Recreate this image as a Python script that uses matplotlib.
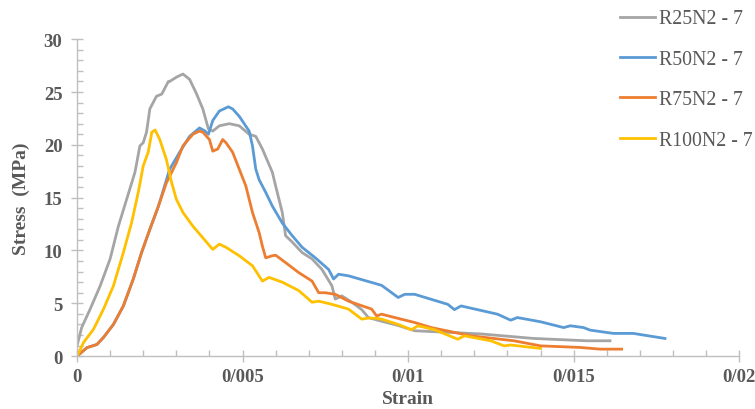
import matplotlib
matplotlib.use("Agg")
import matplotlib.pyplot as plt
from matplotlib.ticker import MultipleLocator, FixedLocator

# Data (strain, stress in MPa)
r25_strain = [0, 0.00014, 0.00039, 0.0007, 0.001, 0.00125, 0.0015, 0.00175, 0.0019, 0.002, 0.0021,
              0.0022, 0.0024, 0.00256, 0.00276, 0.0028, 0.003, 0.0032, 0.0034, 0.0036, 0.0038, 0.00397,
              0.0041, 0.0043, 0.0046, 0.0049, 0.0052, 0.0054, 0.0056, 0.0059, 0.006, 0.0062, 0.0063,
              0.0065, 0.0068, 0.0071, 0.0074, 0.0077, 0.0078, 0.008, 0.0083, 0.0086, 0.0088, 0.0092,
              0.0097, 0.0102, 0.0112, 0.0122, 0.0138, 0.0154, 0.0161]
r25_stress = [0.97, 2.7, 4.4, 6.65, 9.2, 12.3, 14.85, 17.4, 19.9, 20.2, 21.2,
              23.4, 24.6, 24.8, 26.0, 26.0, 26.4, 26.7, 26.2, 24.9, 23.4, 21.5,
              21.3, 21.8, 22.0, 21.8, 21.0, 20.8, 19.6, 17.4, 16.1, 13.6, 11.4,
              10.8, 9.8, 9.2, 8.2, 6.65, 5.4, 5.7, 5.1, 4.4, 3.65, 3.3,
              2.9, 2.4, 2.25, 2.1, 1.67, 1.45, 1.45]

r50_strain = [0, 0.0003, 0.0006, 0.0008, 0.0011, 0.0014, 0.0017, 0.00195, 0.0022, 0.00246, 0.0028,
              0.0031, 0.0034, 0.0037, 0.00387, 0.00397, 0.0041, 0.0043, 0.00457, 0.0047, 0.0049,
              0.0052, 0.0053, 0.0054, 0.0055, 0.0057, 0.0059, 0.0062, 0.0065, 0.0068, 0.0072,
              0.0076, 0.00775, 0.0079, 0.0082, 0.0092, 0.0097, 0.0099, 0.0102, 0.0112, 0.0114,
              0.0116, 0.0127, 0.0131, 0.0133, 0.014, 0.0147, 0.0149, 0.0153, 0.0155, 0.0162,
              0.0168, 0.01776]
r50_stress = [0, 0.8, 1.1, 1.77, 3.0, 4.75, 7.3, 9.8, 12.0, 14.2, 17.7,
              19.3, 20.8, 21.6, 21.3, 21.0, 22.3, 23.2, 23.6, 23.4, 22.7,
              21.3, 19.9, 17.7, 16.7, 15.5, 14.2, 12.6, 11.4, 10.3, 9.3,
              8.2, 7.3, 7.75, 7.6, 6.7, 5.55, 5.85, 5.85, 4.9, 4.4,
              4.75, 3.97, 3.4, 3.65, 3.25, 2.7, 2.87, 2.7, 2.46, 2.15,
              2.15, 1.67]

r75_strain = [0, 0.0003, 0.0006, 0.0008, 0.0011, 0.0014, 0.0017, 0.00195, 0.0022, 0.00246, 0.0027,
              0.003, 0.0032, 0.0035, 0.0037, 0.0038, 0.004, 0.0041, 0.00425, 0.0044, 0.0045,
              0.0047, 0.0049, 0.0051, 0.0053, 0.0055, 0.0056, 0.0057, 0.0059, 0.006, 0.0063,
              0.0067, 0.0071, 0.0073, 0.0075, 0.0078, 0.0082, 0.0089, 0.00905, 0.0092, 0.0097,
              0.0102, 0.0107, 0.0119, 0.0132, 0.014, 0.0152, 0.0158, 0.01645]
r75_stress = [0, 0.8, 1.1, 1.77, 3.0, 4.75, 7.3, 9.8, 12.0, 14.2, 16.4,
              18.3, 19.9, 21.0, 21.3, 21.2, 20.5, 19.4, 19.6, 20.5, 20.2,
              19.3, 17.7, 16.1, 13.6, 11.7, 10.4, 9.3, 9.5, 9.55, 8.85,
              7.9, 7.1, 6.0, 6.0, 5.85, 5.2, 4.45, 3.8, 3.97, 3.57,
              3.18, 2.7, 1.92, 1.45, 0.97, 0.82, 0.66, 0.66]

r100_strain = [0, 0.0002, 0.0005, 0.0008, 0.0011, 0.0014, 0.00165, 0.00185, 0.002, 0.00215, 0.00226,
               0.00236, 0.0025, 0.0027, 0.00286, 0.003, 0.0032, 0.0035, 0.0038, 0.0041, 0.0043,
               0.0045, 0.0049, 0.0053, 0.0056, 0.0058, 0.0062, 0.0067, 0.0071, 0.0073, 0.0077,
               0.0082, 0.0086, 0.0088, 0.00905, 0.0092, 0.0097, 0.0101, 0.0103, 0.0108, 0.0115,
               0.0117, 0.0125, 0.0129, 0.0131, 0.014]
r100_stress = [0, 1.3, 2.55, 4.45, 6.65, 9.8, 12.65, 15.5, 18.0, 19.3, 21.2,
               21.4, 20.5, 18.6, 16.4, 14.85, 13.6, 12.3, 11.2, 10.1, 10.6,
               10.3, 9.5, 8.55, 7.1, 7.45, 7.0, 6.2, 5.1, 5.2, 4.9,
               4.45, 3.5, 3.6, 3.57, 3.5, 3.0, 2.5, 2.87, 2.5, 1.6,
               1.92, 1.45, 0.97, 1.05, 0.73]

labels = ["R25N2 - 7", "R50N2 - 7", "R75N2 - 7", "R100N2 - 7"]
colors = ["#A5A5A5", "#5B9BD5", "#ED7D31", "#FFC000"]
x_ticks = [0, 0.005, 0.01, 0.015, 0.02]
x_ticklabels = ["0", "0/005", "0/01", "0/015", "0/02"]
y_ticks = [0, 5, 10, 15, 20, 25, 30]

fig = plt.figure(figsize=(7.55, 4.10), dpi=100)
ax = fig.add_axes([0.102, 0.129, 0.877, 0.773])

series = [(r25_strain, r25_stress), (r50_strain, r50_stress),
          (r75_strain, r75_stress), (r100_strain, r100_stress)]
for (xs, ys), lab, col in zip(series, labels, colors):
    ax.plot(xs, ys, color=col, lw=2.0, label=lab, solid_joinstyle="round")

ax.set_xlim(0, 0.02)
ax.set_ylim(0, 30)

ax.xaxis.set_major_locator(FixedLocator(x_ticks))
ax.set_xticklabels(x_ticklabels)
ax.xaxis.set_minor_locator(MultipleLocator(0.001))
ax.yaxis.set_major_locator(FixedLocator(y_ticks))
ax.yaxis.set_minor_locator(MultipleLocator(1))

for side in ["top", "right"]:
    ax.spines[side].set_visible(False)
for side in ["left", "bottom"]:
    ax.spines[side].set_color("#BFBFBF")
    ax.spines[side].set_linewidth(1.0)

ax.tick_params(which="major", direction="inout", length=9, width=1, color="#BFBFBF",
               labelcolor="#595959", labelsize=13.5)
ax.tick_params(which="minor", direction="in", length=4, width=1, color="#BFBFBF")
ax.tick_params(axis="x", which="major", pad=4)
ax.tick_params(axis="y", which="major", pad=6)
for lbl in ax.get_xticklabels() + ax.get_yticklabels():
    lbl.set_fontfamily("Liberation Serif")
    lbl.set_fontweight("bold")

ax.set_xlabel("Strain", fontfamily="Liberation Serif", fontweight="bold",
              fontsize=14, color="#595959", labelpad=4)
ax.set_ylabel("Stress  (MPa)", fontfamily="Liberation Serif", fontweight="bold",
              fontsize=14, color="#595959", labelpad=10)

fig.legend(loc="upper left", bbox_to_anchor=(0.797, 1.018), frameon=False,
           prop={"family": "Liberation Serif", "size": 14.3},
           handlelength=1.8, handletextpad=0.2, labelspacing=1.08, labelcolor="#595959")

fig.savefig("out.png", dpi=100)
